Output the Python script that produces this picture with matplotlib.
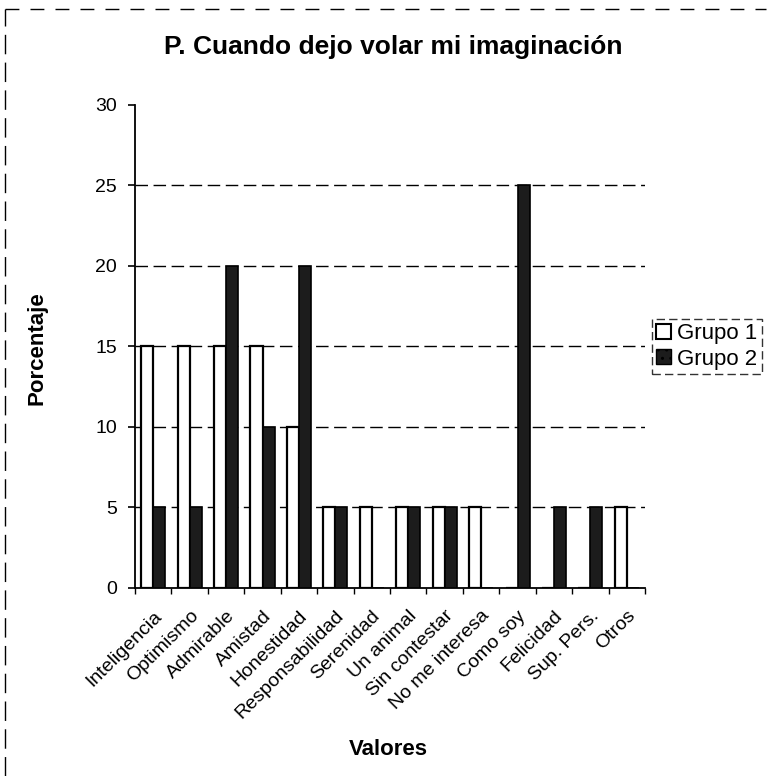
import matplotlib
matplotlib.use("Agg")
import matplotlib.pyplot as plt
import numpy as np
from matplotlib.lines import Line2D
from matplotlib.patches import Patch

categories = [
    "Inteligencia", "Optimismo", "Admirable", "Amistad", "Honestidad",
    "Responsabilidad", "Serenidad", "Un animal", "Sin contestar",
    "No me interesa", "Como soy", "Felicidad", "Sup. Pers.", "Otros",
]
grupo1 = [15, 15, 15, 15, 10, 5, 5, 5, 5, 5, 0, 0, 0, 5]
grupo2 = [5, 5, 20, 10, 20, 5, 0, 5, 5, 0, 25, 5, 5, 0]
y_ticks = [0, 5, 10, 15, 20, 25, 30]

plt.rcParams["font.family"] = ["Liberation Sans", "DejaVu Sans"]

fig = plt.figure(figsize=(7.74, 7.76), dpi=100)
ax = fig.add_axes([0.1744, 0.2423, 0.659, 0.6224])

x = np.arange(len(categories))
w = 0.33
dark = "#1c1c1c"
ax.bar(x - w / 2, grupo1, w, color="white", edgecolor="black", linewidth=1.6, zorder=3)
ax.bar(x + w / 2, grupo2, w, color=dark, edgecolor="black", linewidth=1.2, zorder=3)

ax.set_xlim(-0.5, len(categories) - 0.5)
ax.set_ylim(0, 30)
ax.set_yticks(y_ticks)
ax.tick_params(axis="y", labelsize=14, length=5, width=1.2, direction="out", pad=8)
ax.set_xticks(np.arange(len(categories) + 1) - 0.5, minor=False)
ax.set_xticklabels([])
ax.set_xticks(x, minor=True)
ax.set_xticklabels(categories, minor=True, rotation=45, ha="right",
                   rotation_mode="anchor", fontsize=14)
ax.tick_params(axis="x", which="minor", length=0, pad=14)
ax.tick_params(axis="x", which="major", length=4, width=1.0, direction="out")

# gridlines look broken in the scan, dashed is close enough
for yv in y_ticks[1:-1]:
    ax.axhline(yv, color="black", linewidth=1.0, linestyle=(0, (9, 4)), zorder=1)

for s in ["top", "right"]:
    ax.spines[s].set_visible(False)
ax.spines["left"].set_linewidth(1.3)
ax.spines["bottom"].set_linewidth(1.3)

fig.text(0.048, 0.552, "Porcentaje", rotation=90, ha="center", va="center",
         fontsize=16, fontweight="bold")
fig.text(0.502, 0.034, "Valores", ha="center", va="center",
         fontsize=16, fontweight="bold")
fig.text(0.508, 0.939, "P. Cuando dejo volar mi imaginación", ha="center",
         va="center", fontsize=19, fontweight="bold")

handles = [
    Patch(facecolor="white", edgecolor="black", linewidth=1.5, label="Grupo 1"),
    Patch(facecolor=dark, edgecolor="black", hatch="..", label="Grupo 2"),
]
leg = fig.legend(handles=handles, loc="center left", bbox_to_anchor=(0.842, 0.5535),
                 fontsize=16, frameon=True, fancybox=False, handlelength=0.65,
                 handleheight=0.65, handletextpad=0.3, borderpad=0.2,
                 labelspacing=0.2, borderaxespad=0)
leg.get_frame().set_edgecolor("black")
leg.get_frame().set_linestyle((0, (6, 3)))

# frame of the scanned page
fig.add_artist(Line2D([0.006, 0.99], [0.988, 0.988], transform=fig.transFigure,
                      color="black", linewidth=1.0, linestyle=(0, (10, 8))))
fig.add_artist(Line2D([0.006, 0.006], [0.0, 0.988], transform=fig.transFigure,
                      color="black", linewidth=1.0, linestyle=(0, (14, 6))))

fig.savefig("out.png", dpi=100)
